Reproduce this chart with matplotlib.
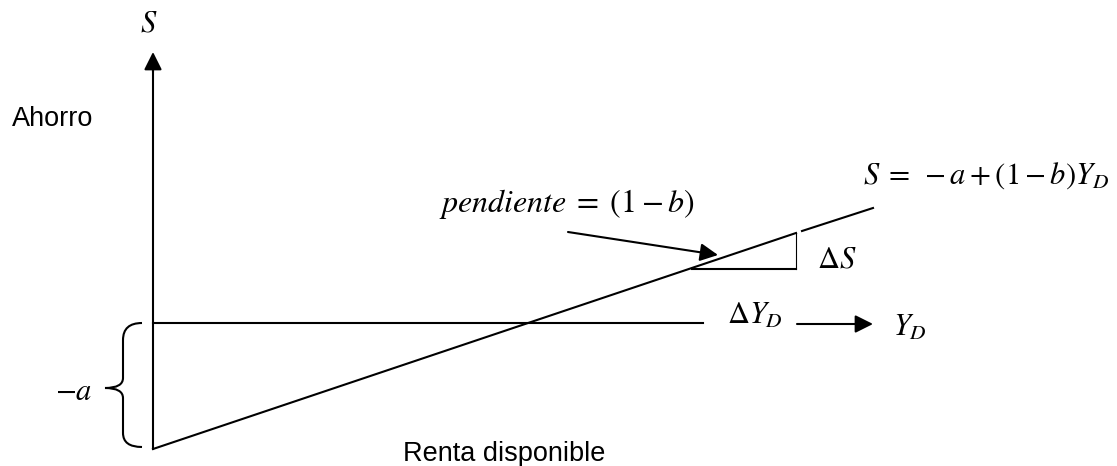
import matplotlib
matplotlib.use("Agg")
import matplotlib.pyplot as plt
from matplotlib.path import Path
from matplotlib.patches import PathPatch

plt.rcParams['mathtext.fontset'] = 'stix'
plt.rcParams['font.family'] = ['Liberation Sans', 'DejaVu Sans']

W, H = 1117, 466

# Diagram geometry (pixel space of the reference)
y_axis_x = [153, 153]
y_axis_y = [449, 52]
horiz_x = [153, 703]
horiz_y = [323, 323]
save_line1_x = [153, 796]
save_line1_y = [449, 233]
save_line2_x = [802, 873]
save_line2_y = [231, 208]
tri_h_x = [692, 796]
tri_h_y = [269, 269]
tri_v_x = [796, 796]
tri_v_y = [233, 269]
yd_arrow = [(797, 324), (873, 324)]
slope_arrow = [(568, 232), (718, 255)]

fig = plt.figure(figsize=(W / 100, H / 100), dpi=100)
ax = fig.add_axes([0, 0, 1, 1])
ax.set_xlim(0, W)
ax.set_ylim(H, 0)
ax.axis('off')

lw = 1.5
ax.plot(y_axis_x, [y_axis_y[0], y_axis_y[1] + 12], color='black', lw=lw)
ax.annotate('', xy=(y_axis_x[1], y_axis_y[1]), xytext=(y_axis_x[1], y_axis_y[1] + 20),
            arrowprops=dict(arrowstyle='-|>,head_length=0.6,head_width=0.3', color='black',
                            lw=lw, shrinkA=0, shrinkB=0, mutation_scale=18))
ax.plot(horiz_x, horiz_y, color='black', lw=lw)
ax.plot(save_line1_x, save_line1_y, color='black', lw=lw)
ax.plot(save_line2_x, save_line2_y, color='black', lw=lw)
ax.plot(tri_h_x, tri_h_y, color='black', lw=lw)
ax.plot(tri_v_x, tri_v_y, color='black', lw=0.8)

for (start, end) in [yd_arrow, slope_arrow]:
    ax.annotate('', xy=end, xytext=start,
                arrowprops=dict(arrowstyle='-|>,head_length=0.6,head_width=0.3', color='black',
                                lw=lw, shrinkA=0, shrinkB=0, mutation_scale=18))

# Brace
verts = [(142, 323), (123, 323), (123, 340), (123, 378), (123, 388), (105, 388),
         (123, 388), (123, 398), (123, 433), (123, 447), (142, 447)]
codes = [Path.MOVETO, Path.CURVE3, Path.CURVE3, Path.LINETO, Path.CURVE3, Path.CURVE3,
         Path.CURVE3, Path.CURVE3, Path.LINETO, Path.CURVE3, Path.CURVE3]
ax.add_patch(PathPatch(Path(verts, codes), fill=False, lw=lw, color='black'))

ms = 22
ax.text(149, 23, r'$S$', fontsize=ms, ha='center', va='center')
ax.text(12, 126, 'Ahorro', fontsize=19.5, ha='left', va='baseline')
ax.text(567, 204, r'$pendiente\;=\;(1-b)$', fontsize=ms + 1, ha='center', va='center')
ax.text(863, 176, r'$S\;=\;-a+(1-b)Y_D$', fontsize=ms, ha='left', va='center')
ax.text(817, 260, r'$\Delta S$', fontsize=ms, ha='left', va='center')
ax.text(727, 316, r'$\Delta Y_D$', fontsize=ms, ha='left', va='center')
ax.text(893, 328, r'$Y_D$', fontsize=ms, ha='left', va='center')
ax.text(55, 392, r'$-a$', fontsize=ms, ha='left', va='center')
ax.text(403, 461, 'Renta disponible', fontsize=19.5, ha='left', va='baseline')

fig.savefig('out.png', dpi=100)
